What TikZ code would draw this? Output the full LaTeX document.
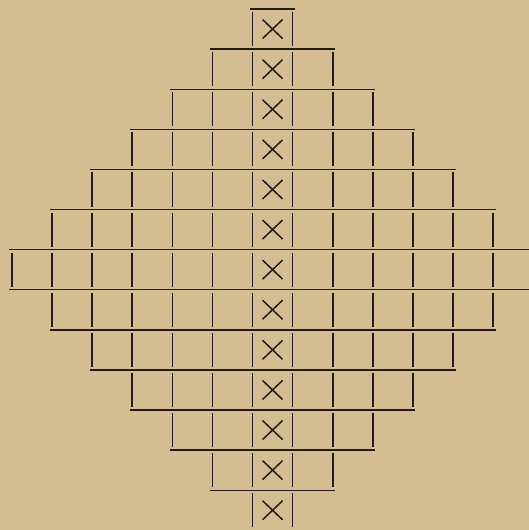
\documentclass[tikz,border=0pt]{standalone}
\definecolor{paper}{RGB}{213,189,146}
\definecolor{ink}{RGB}{32,28,24}
\begin{document}
\begin{tikzpicture}[x=1pt,y=-1pt,
  hline/.style={ink,line width=1.4pt},
  vline/.style={ink,line width=1.6pt},
  xmark/.style={ink,line width=1.5pt}]
\fill[paper] (0,0) rectangle (529,530);
\useasboundingbox (0,0) rectangle (529,530);
\def\cw{40.1}
\def\rh{40.1}
\def\cl{252.5}
\def\ty{9}
\foreach \k in {0,...,12}{
  \pgfmathtruncatemacro{\hn}{6-abs(\k-6)}
  \pgfmathtruncatemacro{\nl}{2*\hn+1}
  \pgfmathsetmacro{\ytop}{\ty+\k*\rh}
  \pgfmathsetmacro{\xl}{\cl-\hn*\cw}
  \pgfmathsetmacro{\xr}{\cl+(\hn+1)*\cw}
  % vertical cell walls
  \foreach \j in {0,...,\nl}{
    \draw[vline] ({\xl+\j*\cw},{\ytop+3}) -- ({\xl+\j*\cw},{\ytop+\rh-3});
  }
  % horizontal rules
  \ifnum\k<7
    \draw[hline] ({\xl-2.5},\ytop) -- ({\xr+2.5},\ytop);
  \fi
  \ifnum\k>5
    \ifnum\k<12
      \draw[hline] ({\xl-2.5},{\ytop+\rh}) -- ({\xr+2.5},{\ytop+\rh});
    \fi
  \fi
  % cross in the centre cell
  \pgfmathsetmacro{\cx}{\cl+\cw/2}
  \pgfmathsetmacro{\cy}{\ytop+\rh/2}
  \draw[xmark] ({\cx-10},{\cy-9.5}) -- ({\cx+10},{\cy+9.5});
  \draw[xmark] ({\cx-10},{\cy+9.5}) -- ({\cx+10},{\cy-9.5});
}
\end{tikzpicture}
\end{document}
